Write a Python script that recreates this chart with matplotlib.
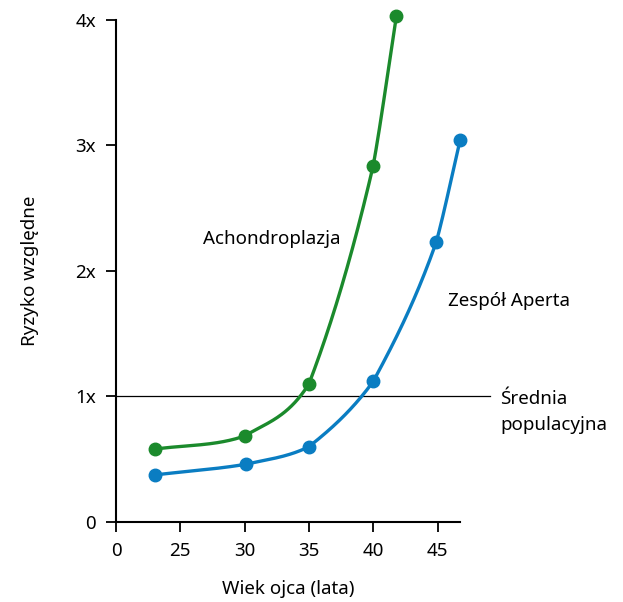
import numpy as np
import matplotlib
matplotlib.use("Agg")
import matplotlib.pyplot as plt

plt.rcParams["font.family"] = ["Noto Sans", "DejaVu Sans"]

# Wiek ojca (lata) i ryzyko względne
achondro_age = [23.0, 30.0, 35.0, 40.0, 41.8]
achondro_risk = [0.58, 0.685, 1.10, 2.84, 4.03]

apert_age = [23.0, 30.1, 35.0, 40.0, 44.9, 46.75]
apert_risk = [0.375, 0.46, 0.60, 1.12, 2.23, 3.04]

x_ticks = [20, 25, 30, 35, 40, 45]
x_tick_labels = ["0", "25", "30", "35", "40", "45"]
y_ticks = [0, 1, 2, 3, 4]
y_tick_labels = ["0", "1x", "2x", "3x", "4x"]

GREEN = "#1b8a2c"
BLUE = "#0a7dc2"
FS = 13.5


def smooth(x, y, n=60, a=0.6):
    # each segment is a hermite cubic whose end tangents lean towards its own chord,
    # so the line bends a little inside a segment and kinks slightly at the dots
    x = np.asarray(x, float)
    y = np.asarray(y, float)
    d = np.diff(y) / np.diff(x)
    out_x, out_y = [], []
    for i in range(len(d)):
        prev_d = d[i - 1] if i > 0 else d[i]
        next_d = d[i + 1] if i < len(d) - 1 else d[i]
        m0 = (1 - a) * d[i] + a * (prev_d + d[i]) / 2
        m1 = (1 - a) * d[i] + a * (d[i] + next_d) / 2
        h = x[i + 1] - x[i]
        t = np.linspace(0, 1, n)
        h00 = 2 * t**3 - 3 * t**2 + 1
        h10 = t**3 - 2 * t**2 + t
        h01 = -2 * t**3 + 3 * t**2
        h11 = t**3 - t**2
        out_x.append(x[i] + t * h)
        out_y.append(h00 * y[i] + h10 * h * m0 + h01 * y[i + 1] + h11 * h * m1)
    return np.concatenate(out_x), np.concatenate(out_y)


fig = plt.figure(figsize=(6.23, 6.02), dpi=100)
ax = fig.add_axes([0.1862, 0.1329, 0.5522, 0.8339])

ax.plot([20, 49.1], [1, 1], color="black", lw=0.9, clip_on=False, zorder=1)

for xv, yv, c in [(achondro_age, achondro_risk, GREEN), (apert_age, apert_risk, BLUE)]:
    xs, ys = smooth(xv, yv)
    ax.plot(xs, ys, color=c, lw=2.4, clip_on=False, zorder=2)
    ax.plot(xv, yv, "o", color=c, ms=9, clip_on=False, zorder=3)

ax.set_xlim(20, 46.75)
ax.set_ylim(0, 4)
ax.set_xticks(x_ticks)
ax.set_xticklabels(x_tick_labels)
ax.set_yticks(y_ticks)
ax.set_yticklabels(y_tick_labels)
ax.spines["top"].set_visible(False)
ax.spines["right"].set_visible(False)
for s in ["left", "bottom"]:
    ax.spines[s].set_linewidth(1.5)
ax.tick_params(direction="out", length=7.5, width=1.3, labelsize=FS, pad=7)

ax.set_xlabel("Wiek ojca (lata)", fontsize=FS, labelpad=14)
ax.set_ylabel("Ryzyko względne", fontsize=FS, labelpad=26)

ax.text(26.8, 2.215, "Achondroplazja", fontsize=FS, va="baseline", ha="left")
ax.text(45.8, 1.72, "Zespół Aperta", fontsize=FS, va="baseline", ha="left", clip_on=False)
ax.text(49.86, 0.94, "Średnia", fontsize=FS, va="baseline", ha="left", clip_on=False)
ax.text(49.86, 0.733, "populacyjna", fontsize=FS, va="baseline", ha="left", clip_on=False)

fig.savefig("out.png", dpi=100)
